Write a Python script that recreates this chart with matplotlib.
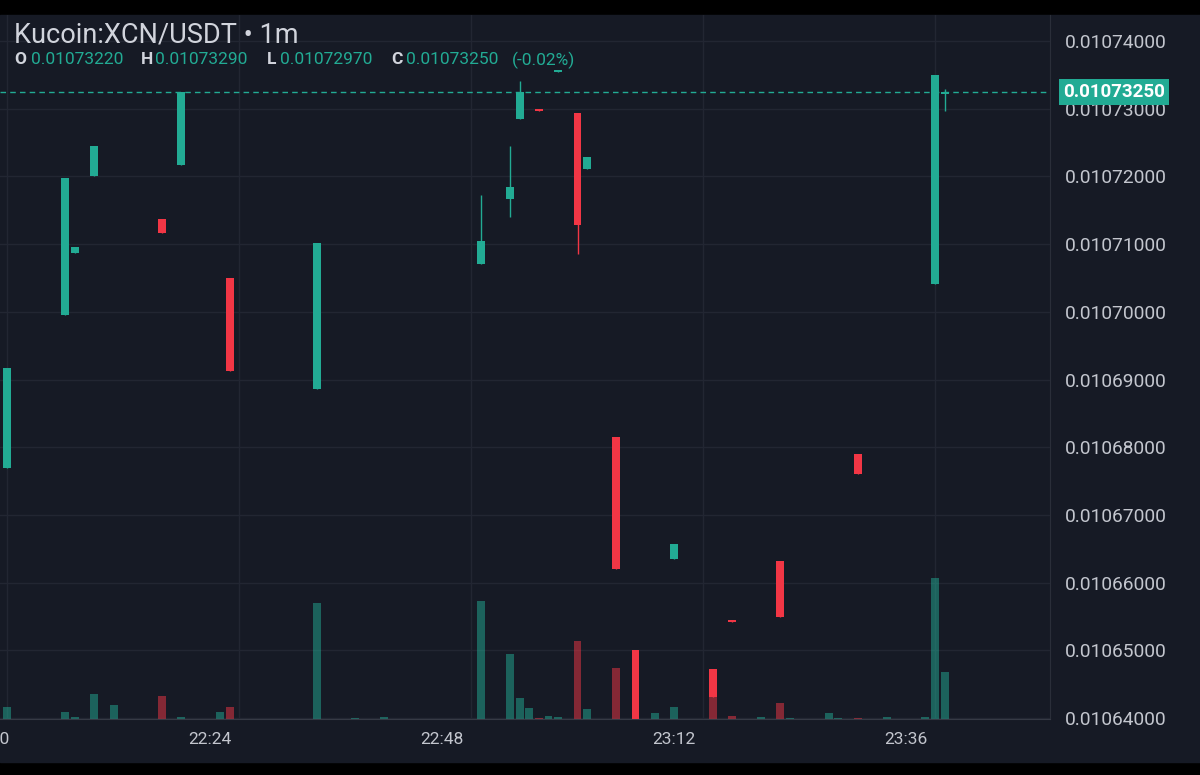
import matplotlib
matplotlib.use('Agg')
import matplotlib.pyplot as plt
from matplotlib.patches import Rectangle
from matplotlib.transforms import blended_transform_factory
import numpy as np

# candles: minute after 22:00, open, high, low, close
minutes = [3, 9, 10, 12, 19, 21, 26, 35, 52, 55, 56, 58, 60, 62, 63,
           66, 68, 72, 76, 78, 83, 91, 99, 100]
opens = [0.01067693, 0.01069950, 0.01070870, 0.01072006, 0.01071370, 0.01072170,
         0.01070500, 0.01068860, 0.01070710, 0.01071670, 0.01072850, 0.01072990,
         0.01073540, 0.01072940, 0.01072110, 0.01068150, 0.01065010, 0.01066350,
         0.01064720, 0.01065450, 0.01066320, 0.01067900, 0.01070410, 0.01073220]
highs = [0.01069170, 0.01071980, 0.01070960, 0.01072450, 0.01071370, 0.01073240,
         0.01070500, 0.01071020, 0.01071730, 0.01072450, 0.01073410, 0.01072990,
         0.01073570, 0.01072940, 0.01072290, 0.01068150, 0.01065010, 0.01066570,
         0.01064720, 0.01065450, 0.01066320, 0.01067900, 0.01073500, 0.01073290]
lows = [0.01067693, 0.01069950, 0.01070870, 0.01072006, 0.01071160, 0.01072170,
        0.01069130, 0.01068860, 0.01070710, 0.01071400, 0.01072850, 0.01072960,
        0.01073540, 0.01070850, 0.01072110, 0.01066200, 0.01063500, 0.01066350,
        0.01064310, 0.01065420, 0.01065490, 0.01067600, 0.01070410, 0.01072970]
closes = [0.01069170, 0.01071980, 0.01070960, 0.01072450, 0.01071160, 0.01073240,
          0.01069130, 0.01071020, 0.01071050, 0.01071840, 0.01073250, 0.01072960,
          0.01073570, 0.01071280, 0.01072290, 0.01066200, 0.01063500, 0.01066570,
          0.01064310, 0.01065420, 0.01065490, 0.01067600, 0.01073500, 0.01073250]

# volume per minute (arbitrary units), up = True for green
vol_minutes = [3, 9, 10, 12, 14, 19, 21, 25, 26, 35, 39, 42, 52, 55, 56, 57, 58, 59,
               60, 62, 63, 66, 68, 70, 72, 76, 78, 81, 83, 84, 88, 89, 91, 94, 98,
               99, 100]
volumes = [120, 70, 25, 250, 140, 230, 25, 70, 120, 1160, 10, 25, 1180, 650, 210,
           107, 15, 30, 25, 780, 100, 510, 400, 57, 117, 220, 30, 25, 160, 15, 57,
           15, 15, 20, 25, 1410, 470]
vol_up = [True, True, True, True, True, False, True, True, False, True, True, True,
          True, True, True, True, False, True, True, False, True, False, False, True,
          True, False, False, True, False, True, True, True, False, True, True, True,
          True]

tick_minutes = [0, 24, 48, 72, 96]
tick_labels = ['22:00', '22:24', '22:48', '23:12', '23:36']
grid_minutes = [3, 27, 51, 75, 99]
price_ticks = np.arange(0.01064, 0.010745, 0.00001)

BG = '#161A25'
GREEN = '#22AB94'
RED = '#F23645'
GRID = '#222632'
TXT = '#C3C6CE'
plt.rcParams['font.family'] = ['Roboto', 'DejaVu Sans']

fig = plt.figure(figsize=(12, 7.75), dpi=100, facecolor='black')
fig.patches.append(Rectangle((0, 13 / 775), 1, 747 / 775, transform=fig.transFigure,
                             color=BG, zorder=-10))

ax = fig.add_axes([0, 56 / 775, 1050 / 1200, 704 / 775])
axv = ax.twinx()
ax.set_zorder(axv.get_zorder() + 1)
ax.patch.set_visible(False)
axv.patch.set_visible(False)

# grid goes on the lower axes so it stays behind the volume bars
gtr = blended_transform_factory(axv.transAxes, ax.transData)
for p in price_ticks:
    axv.plot([0, 1], [p, p], color=GRID, linewidth=1, transform=gtr, zorder=0)
for g in grid_minutes:
    axv.axvline(g, color=GRID, linewidth=1, zorder=0)

# volume
vcol = [GREEN if u else RED for u in vol_up]
axv.bar(vol_minutes, volumes, width=0.82, color=vcol, alpha=0.5, linewidth=0, zorder=2)
axv.set_ylim(0, max(volumes) * 5.0)
axv.set_yticks([])
for s in axv.spines.values():
    s.set_visible(False)

# candles
o = np.array(opens)
c = np.array(closes)
up = c >= o
ccol = [GREEN if u else RED for u in up]
ax.vlines(minutes, lows, highs, colors=ccol, linewidth=1.0, zorder=3)
ax.bar(minutes, np.abs(c - o), bottom=np.minimum(o, c), width=0.82, color=ccol,
       linewidth=0, zorder=4)

# last price line + label
last = closes[-1]
ax.axhline(last, color=GREEN, linewidth=1, linestyle=(0, (4, 3)), zorder=2)
tr = blended_transform_factory(ax.transAxes, ax.transData)
ax.text(1 + 13 / 1050, last, f'{last:.8f}', transform=tr, ha='left', va='center',
        fontsize=13.5, fontweight='bold', color='white', zorder=10, clip_on=False,
        bbox=dict(boxstyle='square,pad=0.2', facecolor=GREEN, edgecolor='none'))

ax.yaxis.tick_right()
ax.set_yticks(price_ticks)
ax.set_yticklabels([f'{p:.8f}' for p in price_ticks])
ax.set_xticks(tick_minutes[1:])
ax.set_xticklabels(tick_labels[1:])
ax.set_xlim(2.23, 110.9)
ax.set_ylim(0.0106398523, 0.0107438405)
ax.tick_params(axis='y', length=0, pad=11, labelsize=13.8, labelcolor=TXT)
ax.tick_params(axis='x', length=0, pad=9, labelsize=12.5, labelcolor=TXT)
for side in ['top', 'left']:
    ax.spines[side].set_visible(False)
ax.spines['bottom'].set_color('#363A45')
ax.spines['right'].set_color('#2A2E39')

# first time label sits mostly off the left edge, as in the screenshot
xtr = blended_transform_factory(ax.transData, ax.transAxes)
ax.annotate(tick_labels[0], xy=(tick_minutes[0], 0), xycoords=xtr,
            xytext=(6.5, -9.5), textcoords='offset points', ha='center', va='top',
            fontsize=12.5, color=TXT, annotation_clip=False)

# legend header
def px(x, y):
    return x / 1200, 1 - y / 775

fig.text(*px(14, 35), 'Kucoin:XCN/USDT • 1m', fontsize=19.5, color='#D1D4DC',
         ha='left', va='center')
ohlc = [('O', 14, opens[-1], 31), ('H', 141, highs[-1], 155),
        ('L', 267, lows[-1], 280), ('C', 391, closes[-1], 406)]
for lab, lx, val, vx in ohlc:
    fig.text(*px(lx, 60), lab, fontsize=12.5, fontweight='bold', color='#D1D4DC',
             ha='left', va='center')
    fig.text(*px(vx, 60), f'{val:.8f}', fontsize=12.5, color=GREEN,
             ha='left', va='center')
chg = (closes[-1] - closes[-2]) / closes[-2] * 100
fig.text(*px(512, 60), f'({chg:.2f}%)', fontsize=12.5, color=GREEN,
         ha='left', va='center')

fig.savefig('out.png', dpi=100, facecolor='black')
